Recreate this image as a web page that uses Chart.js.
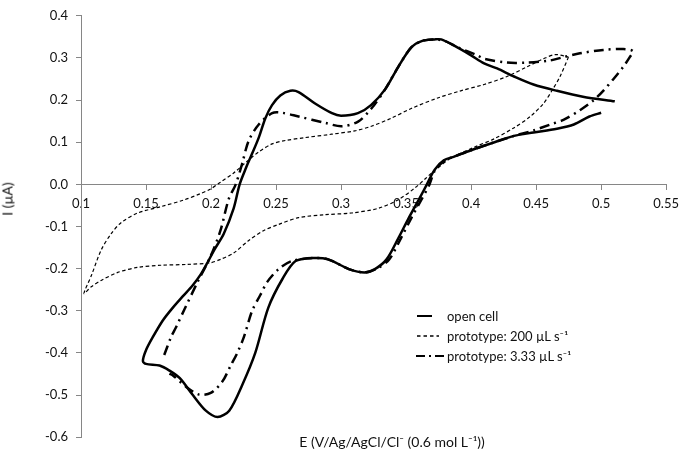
<!DOCTYPE html>
<html>
<head>
<meta charset="utf-8">
<script src="https://cdn.jsdelivr.net/npm/chart.js@4.4.1/dist/chart.umd.min.js"></script>
<style>
    body { margin: 0; background: #fff; font-family: Lato, sans-serif; color: #111; }
    #wrap { position: relative; width: 686px; height: 453px; }
    #yTitle { position: absolute; left: 7px; top: 199px; transform: translate(-50%, -50%) rotate(-90deg); white-space: nowrap; font-size: 14px; }
    #xTitle { position: absolute; left: 392px; top: 441px; transform: translate(-50%, -50%); white-space: nowrap; font-size: 14px; }
    #legend { position: absolute; left: 415px; top: 306px; font-size: 13px; line-height: 20px; }
    #legend div { display: flex; align-items: center; height: 20px; }
    #legend svg { width: 32px; height: 10px; }
</style>
</head>
<body>
<div id="wrap">
    <canvas id="cvChart" width="686" height="453"></canvas>
    <div id="yTitle">I (µA)</div>
    <div id="xTitle">E (V/Ag/AgCl/Cl⁻ (0.6 mol L⁻¹))</div>
    <div id="legend">
        <div><svg><line x1="2" y1="5" x2="17" y2="5" stroke="#000" stroke-width="2"/></svg>open cell</div>
        <div><svg><line x1="2" y1="5" x2="24" y2="5" stroke="#000" stroke-width="1.3" stroke-dasharray="3.5 3"/></svg>prototype: 200 µL s⁻¹</div>
        <div><svg><line x1="1" y1="5" x2="31" y2="5" stroke="#000" stroke-width="2" stroke-dasharray="9 4 2 4"/></svg>prototype: 3.33 µL s⁻¹</div>
    </div>
</div>
<script>
// potential (V) and current (µA), in scan order

// open cell (solid)
const openE = [0.500, 0.491, 0.479, 0.466, 0.448, 0.433, 0.418, 0.400, 0.387, 0.379, 0.372, 0.366, 0.360, 0.352, 0.344,
    0.335, 0.326, 0.318, 0.306, 0.290, 0.278, 0.265, 0.255, 0.244, 0.234, 0.224, 0.214, 0.205, 0.196, 0.186, 0.176,
    0.168, 0.1604, 0.150, 0.1476, 0.1502, 0.1553, 0.1629, 0.1705, 0.1782, 0.1858, 0.1922, 0.1972, 0.2024, 0.2098, 0.2174,
    0.222, 0.227, 0.2316, 0.2367, 0.2418, 0.2469, 0.2533, 0.261, 0.2673,
    0.280, 0.293, 0.300, 0.313, 0.323, 0.334, 0.344, 0.354, 0.362, 0.372, 0.377, 0.387, 0.400, 0.410, 0.420, 0.433,
    0.448, 0.466, 0.486, 0.5105];
const openI = [0.170, 0.161, 0.142, 0.132, 0.123, 0.115, 0.100, 0.081, 0.066, 0.057, 0.035, 0.000, -0.035, -0.080, -0.128,
    -0.178, -0.201, -0.209, -0.201, -0.178, -0.175, -0.182, -0.224, -0.293, -0.400, -0.476, -0.537, -0.552, -0.537, -0.500, -0.460,
    -0.442, -0.430, -0.426, -0.419, -0.392, -0.362, -0.323, -0.293, -0.266, -0.240, -0.213, -0.186, -0.156, -0.117, -0.057,
    0.000, 0.040, 0.073, 0.111, 0.157, 0.188, 0.211, 0.222, 0.219,
    0.192, 0.169, 0.163, 0.169, 0.188, 0.226, 0.279, 0.325, 0.340, 0.344, 0.344, 0.329, 0.306, 0.287, 0.275, 0.256,
    0.237, 0.222, 0.208, 0.197];

// prototype 200 µL/s (dashed)
const fastE = [0.4749, 0.4684, 0.4621, 0.4557, 0.4455, 0.4328, 0.4176, 0.4023, 0.3844, 0.372, 0.365, 0.357, 0.3437, 0.3284,
    0.308, 0.2877, 0.2673, 0.252, 0.2403, 0.229, 0.2174, 0.2072, 0.1996, 0.1817, 0.1613, 0.1435, 0.1283, 0.1155, 0.1079,
    0.1023, 0.1079, 0.1155, 0.1232, 0.1308, 0.1435, 0.1613, 0.1792, 0.1919, 0.1996, 0.2072, 0.2174, 0.229, 0.2367, 0.247,
    0.2571, 0.2724, 0.2927, 0.3106, 0.3233, 0.3386, 0.3539, 0.3743, 0.392, 0.410, 0.4277, 0.443, 0.4557, 0.4646, 0.4749];
const fastI = [0.302, 0.256, 0.222, 0.192, 0.161, 0.134, 0.108, 0.088, 0.062, 0.033, 0.014, -0.008, -0.037, -0.057,
    -0.068, -0.072, -0.079, -0.095, -0.110, -0.133, -0.163, -0.178, -0.186, -0.190, -0.192, -0.197, -0.209, -0.228, -0.243,
    -0.259, -0.217, -0.156, -0.117, -0.091, -0.068, -0.053, -0.037, -0.022, -0.011, 0.005, 0.027, 0.058, 0.077, 0.096,
    0.104, 0.111, 0.119, 0.127, 0.138, 0.157, 0.180, 0.205, 0.222, 0.237, 0.256, 0.279, 0.298, 0.308, 0.302];

// prototype 3.33 µL/s (dash-dot)
const slowE = [0.164, 0.1693, 0.1731, 0.1795, 0.1896, 0.1996, 0.2072, 0.2136, 0.219, 0.224, 0.229, 0.2367, 0.247, 0.2546,
    0.2673, 0.2877, 0.3004, 0.3131, 0.3233, 0.334, 0.344, 0.354, 0.362, 0.372, 0.380, 0.390, 0.4048, 0.410, 0.4277, 0.443,
    0.4608, 0.471, 0.4837, 0.5016, 0.517, 0.5245, 0.522, 0.517, 0.5092, 0.5016, 0.494, 0.4837, 0.471, 0.4608, 0.448, 0.433,
    0.418, 0.400, 0.387, 0.379, 0.372, 0.368, 0.362, 0.354, 0.346, 0.337, 0.327, 0.318, 0.306, 0.290, 0.278, 0.2622, 0.252,
    0.2431, 0.238, 0.2316, 0.2253, 0.2202, 0.2151, 0.2087, 0.1998, 0.1909, 0.1807, 0.1705, 0.168];
const slowI = [-0.405, -0.362, -0.339, -0.297, -0.232, -0.171, -0.110, -0.035, 0.000, 0.050, 0.104, 0.142, 0.169, 0.170,
    0.161, 0.146, 0.138, 0.149, 0.180, 0.226, 0.279, 0.325, 0.340, 0.344, 0.340, 0.325, 0.306, 0.298, 0.289, 0.289,
    0.294, 0.302, 0.311, 0.319, 0.321, 0.316, 0.302, 0.279, 0.249, 0.222, 0.199, 0.176, 0.153, 0.142, 0.128, 0.115,
    0.100, 0.081, 0.066, 0.055, 0.032, 0.000, -0.035, -0.080, -0.128, -0.178, -0.201, -0.209, -0.201, -0.178, -0.175, -0.182, -0.201,
    -0.232, -0.262, -0.300, -0.362, -0.400, -0.430, -0.468, -0.495, -0.499, -0.480, -0.453, -0.449];

// axis ticks
const xTicks = [0.1, 0.15, 0.2, 0.25, 0.3, 0.35, 0.4, 0.45, 0.5, 0.55];
const yTicks = [-0.6, -0.5, -0.4, -0.3, -0.2, -0.1, 0.0, 0.1, 0.2, 0.3, 0.4];


function toPoints(xs, ys) {
    return xs.map((x, i) => ({ x: x, y: ys[i] }));
}

const axisGrey = '#868686';
const tickFont = { family: 'Lato', size: 13 };

const config = {
    type: 'scatter',
    data: {
        datasets: [
            {
                label: 'open cell',
                data: toPoints(openE, openI),
                showLine: true,
                borderColor: '#000',
                borderWidth: 2.5,
                pointRadius: 0,
                tension: 0.3
            },
            {
                label: 'prototype: 200 µL s⁻¹',
                data: toPoints(fastE, fastI),
                showLine: true,
                borderColor: '#000',
                borderWidth: 1.2,
                borderDash: [3.5, 2.5],
                pointRadius: 0,
                tension: 0.3
            },
            {
                label: 'prototype: 3.33 µL s⁻¹',
                data: toPoints(slowE, slowI),
                showLine: true,
                borderColor: '#000',
                borderWidth: 2.5,
                borderDash: [10, 5, 2, 5],
                pointRadius: 0,
                tension: 0.3
            }
        ]
    },
    options: {
        responsive: false,
        animation: false,
        layout: { padding: { left: 0, right: 16, top: 7, bottom: 9 } },
        scales: {
            x: {
                type: 'linear',
                min: 0.1,
                max: 0.55,
                position: { y: 0 },
                afterFit: (s) => { s.height = 0; },
                afterBuildTicks: (s) => { s.ticks = xTicks.map(v => ({ value: v })); },
                ticks: {
                    color: '#111',
                    font: tickFont,
                    padding: 7,
                    maxRotation: 0,
                    autoSkip: false,
                    callback: (v) => String(parseFloat(v.toFixed(2)))
                },
                grid: { drawOnChartArea: false, drawTicks: true, tickLength: 5, color: axisGrey },
                border: { display: true, color: axisGrey }
            },
            y: {
                type: 'linear',
                min: -0.6,
                max: 0.4,
                afterFit: (s) => { s.width = 81; },
                afterBuildTicks: (s) => { s.ticks = yTicks.map(v => ({ value: v })); },
                ticks: {
                    color: '#111',
                    font: tickFont,
                    padding: 8,
                    callback: (v) => (Math.round(v * 10) / 10).toFixed(1)
                },
                grid: { drawOnChartArea: false, drawTicks: true, tickLength: 5, color: axisGrey },
                border: { display: true, color: axisGrey }
            }
        },
        plugins: {
            legend: { display: false },
            tooltip: { enabled: false }
        }
    }
};

const myChart = new Chart(document.getElementById('cvChart').getContext('2d'), config);
</script>
</body>
</html>
